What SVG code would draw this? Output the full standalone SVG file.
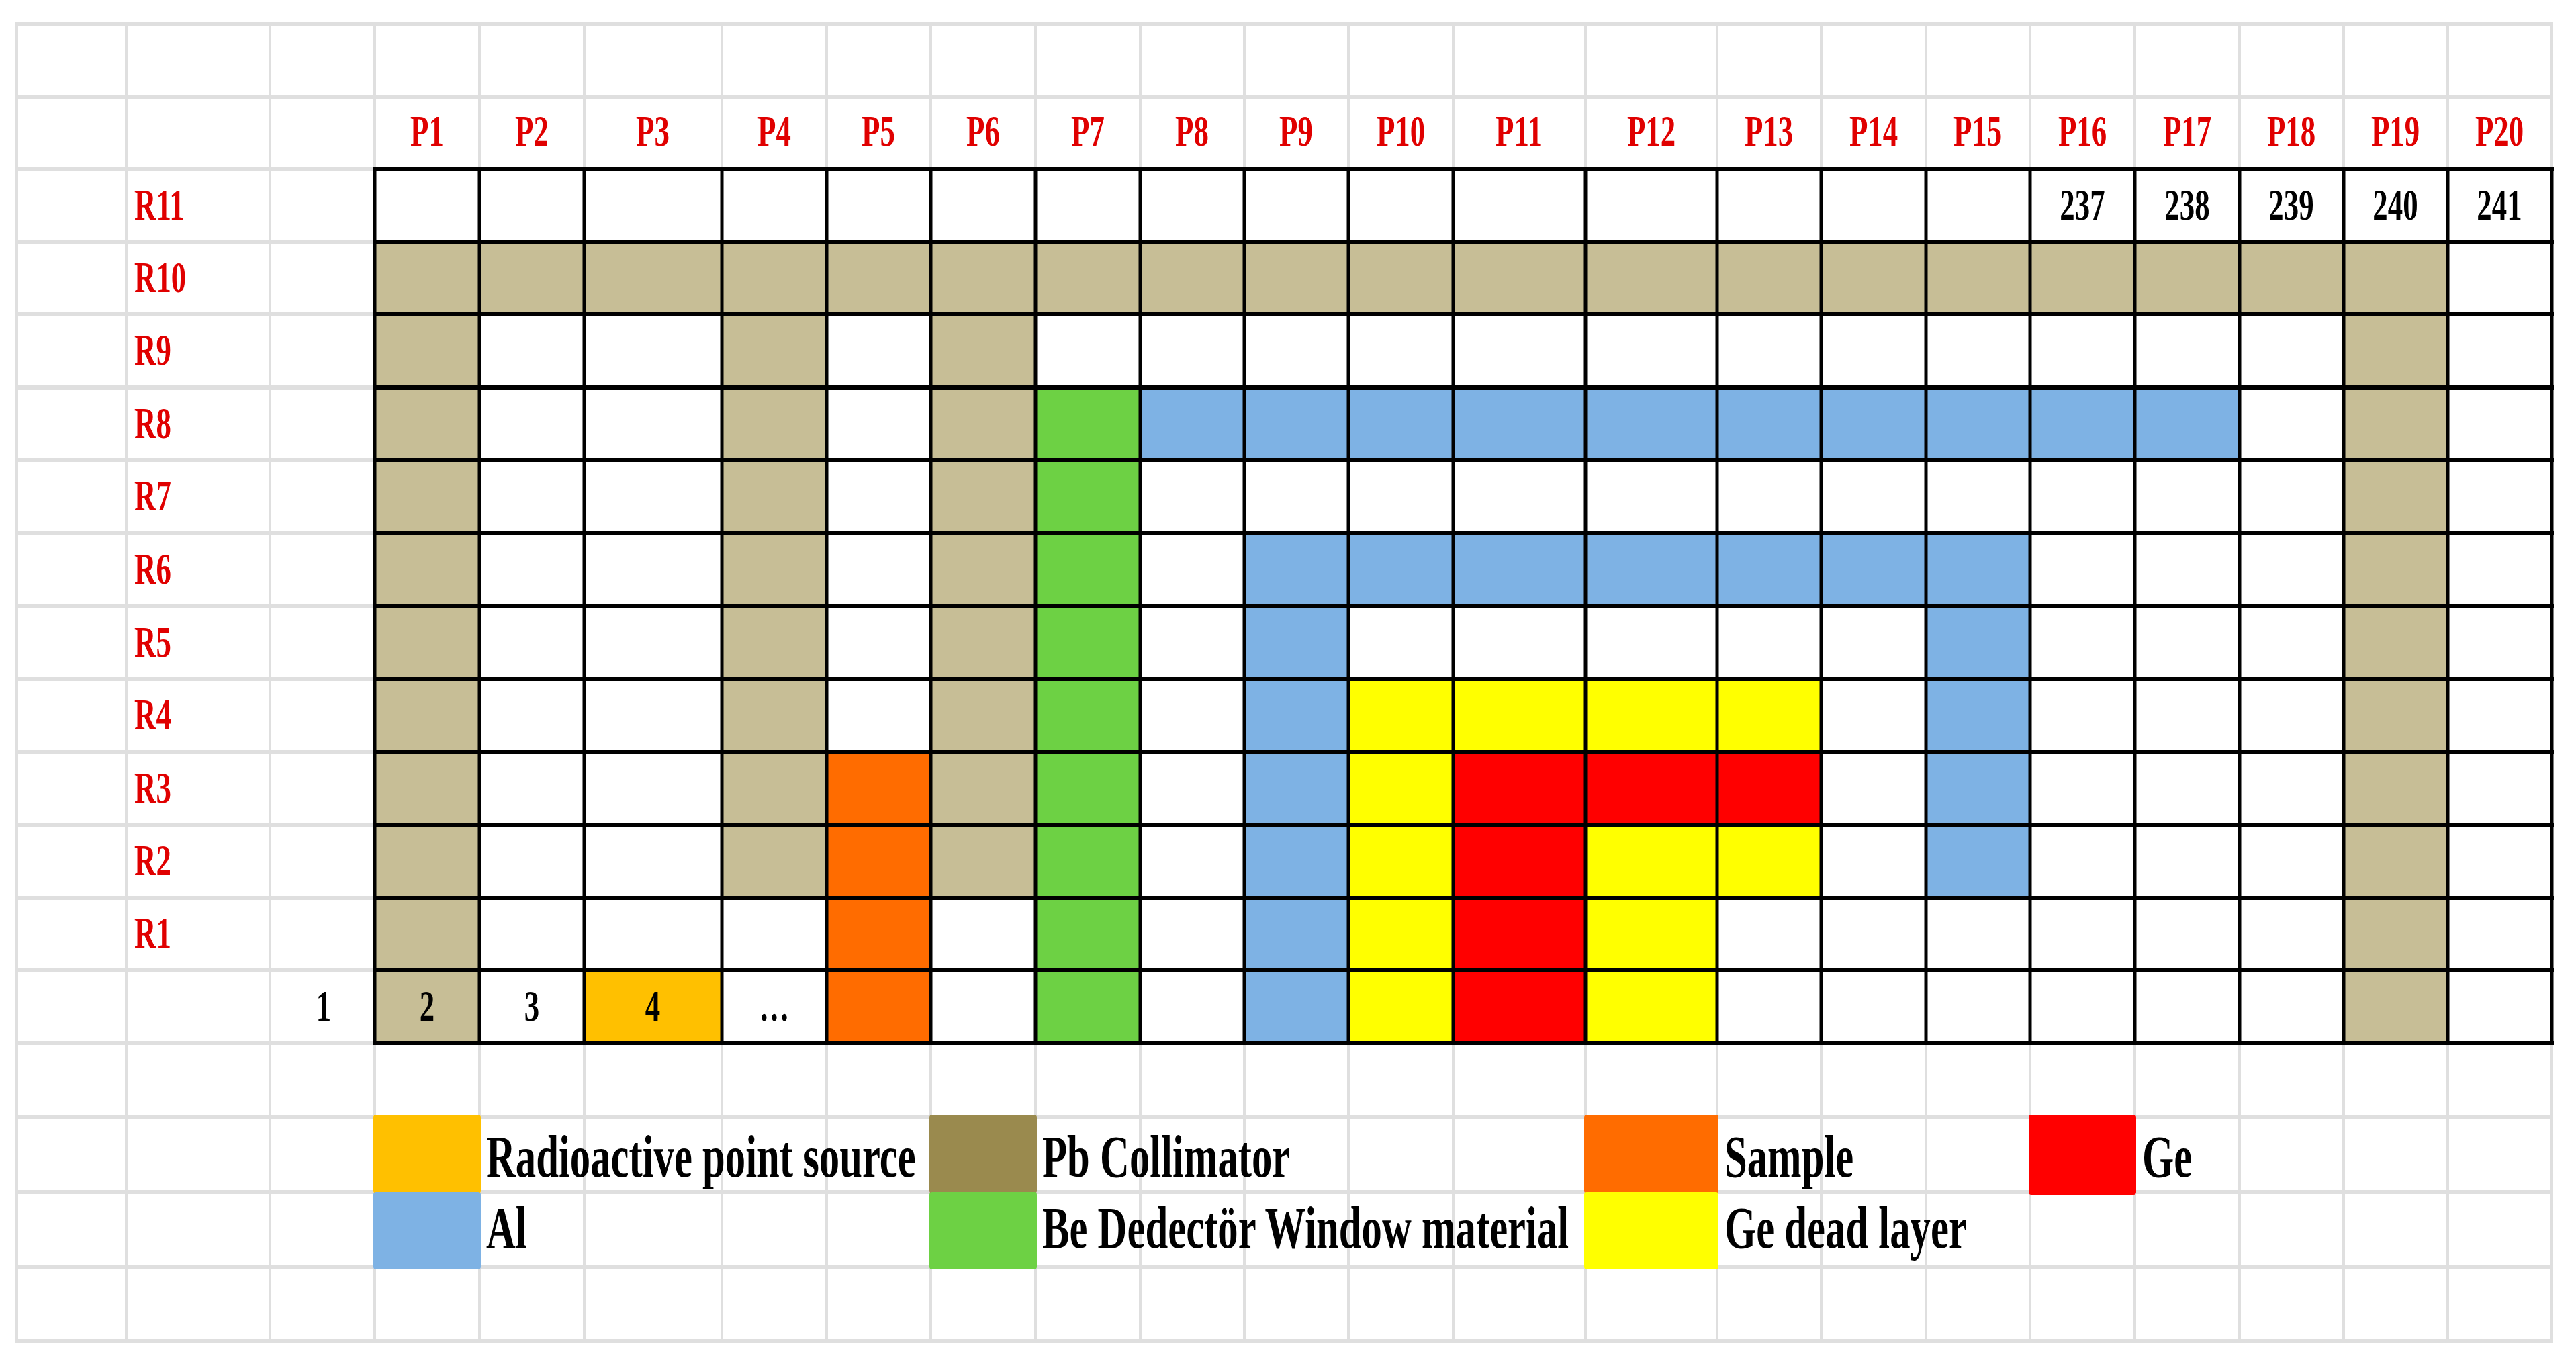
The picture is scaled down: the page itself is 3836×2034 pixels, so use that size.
<svg xmlns="http://www.w3.org/2000/svg" width="3836" height="2034" viewBox="0 0 3836 2034">
<style>
.gv{stroke:#DFDFDF;stroke-width:4}
.gh{stroke:#DFDFDF;stroke-width:6}
.bv{stroke:#000;stroke-width:5;stroke-linecap:square}
.bh{stroke:#000;stroke-width:6;stroke-linecap:square}
.pb{fill:#C7BE96}
.al{fill:#7EB2E4}
.be{fill:#6DD144}
.sa{fill:#FF6C00}
.ge{fill:#FF0000}
.dl{fill:#FFFF00}
.src{fill:#FFC000}
.pbl{fill:#9A8A4E}
.t{font-family:"Liberation Serif","Times New Roman",serif;font-weight:bold;font-size:65px}
.red{fill:#E00000}
.blk{fill:#000}
.c{text-anchor:middle}
.lg{font-family:"Liberation Serif","Times New Roman",serif;font-weight:bold;font-size:88px;fill:#000}
</style>
<rect x="0" y="0" width="3836" height="2034" fill="#fff"/>
<g id="gray-grid">
<line class="gv" x1="25" y1="36" x2="25" y2="1997"/>
<line class="gv" x1="188" y1="36" x2="188" y2="1997"/>
<line class="gv" x1="402" y1="36" x2="402" y2="1997"/>
<line class="gv" x1="558" y1="36" x2="558" y2="1997"/>
<line class="gv" x1="714" y1="36" x2="714" y2="1997"/>
<line class="gv" x1="870" y1="36" x2="870" y2="1997"/>
<line class="gv" x1="1075" y1="36" x2="1075" y2="1997"/>
<line class="gv" x1="1231" y1="36" x2="1231" y2="1997"/>
<line class="gv" x1="1386" y1="36" x2="1386" y2="1997"/>
<line class="gv" x1="1542" y1="36" x2="1542" y2="1997"/>
<line class="gv" x1="1698" y1="36" x2="1698" y2="1997"/>
<line class="gv" x1="1853" y1="36" x2="1853" y2="1997"/>
<line class="gv" x1="2008" y1="36" x2="2008" y2="1997"/>
<line class="gv" x1="2164" y1="36" x2="2164" y2="1997"/>
<line class="gv" x1="2361" y1="36" x2="2361" y2="1997"/>
<line class="gv" x1="2557" y1="36" x2="2557" y2="1997"/>
<line class="gv" x1="2712" y1="36" x2="2712" y2="1997"/>
<line class="gv" x1="2868" y1="36" x2="2868" y2="1997"/>
<line class="gv" x1="3023" y1="36" x2="3023" y2="1997"/>
<line class="gv" x1="3179" y1="36" x2="3179" y2="1997"/>
<line class="gv" x1="3335" y1="36" x2="3335" y2="1997"/>
<line class="gv" x1="3490" y1="36" x2="3490" y2="1997"/>
<line class="gv" x1="3645" y1="36" x2="3645" y2="1997"/>
<line class="gv" x1="3800" y1="36" x2="3800" y2="1997"/>
<line class="gh" x1="23" y1="36" x2="3802" y2="36"/>
<line class="gh" x1="23" y1="144" x2="3802" y2="144"/>
<line class="gh" x1="23" y1="252" x2="3802" y2="252"/>
<line class="gh" x1="23" y1="360" x2="3802" y2="360"/>
<line class="gh" x1="23" y1="468" x2="3802" y2="468"/>
<line class="gh" x1="23" y1="577" x2="3802" y2="577"/>
<line class="gh" x1="23" y1="685" x2="3802" y2="685"/>
<line class="gh" x1="23" y1="794" x2="3802" y2="794"/>
<line class="gh" x1="23" y1="903" x2="3802" y2="903"/>
<line class="gh" x1="23" y1="1011" x2="3802" y2="1011"/>
<line class="gh" x1="23" y1="1120" x2="3802" y2="1120"/>
<line class="gh" x1="23" y1="1228" x2="3802" y2="1228"/>
<line class="gh" x1="23" y1="1337" x2="3802" y2="1337"/>
<line class="gh" x1="23" y1="1445" x2="3802" y2="1445"/>
<line class="gh" x1="23" y1="1553" x2="3802" y2="1553"/>
<line class="gh" x1="23" y1="1663" x2="3802" y2="1663"/>
<line class="gh" x1="23" y1="1775" x2="3802" y2="1775"/>
<line class="gh" x1="23" y1="1887" x2="3802" y2="1887"/>
<line class="gh" x1="23" y1="1997" x2="3802" y2="1997"/>
</g>
<g id="cells">
<rect class="pb" x="558" y="360" width="3087" height="108"/>
<rect class="pb" x="558" y="468" width="156" height="1085"/>
<rect class="pb" x="1075" y="468" width="156" height="869"/>
<rect class="pb" x="1386" y="468" width="156" height="869"/>
<rect class="pb" x="3490" y="468" width="155" height="1085"/>
<rect class="be" x="1542" y="577" width="156" height="976"/>
<rect class="al" x="1698" y="577" width="1637" height="108"/>
<rect class="al" x="1853" y="794" width="1170" height="109"/>
<rect class="al" x="1853" y="903" width="155" height="650"/>
<rect class="al" x="2868" y="903" width="155" height="434"/>
<rect class="dl" x="2008" y="1011" width="704" height="109"/>
<rect class="dl" x="2008" y="1120" width="156" height="433"/>
<rect class="ge" x="2164" y="1120" width="548" height="108"/>
<rect class="ge" x="2164" y="1228" width="197" height="325"/>
<rect class="dl" x="2361" y="1228" width="351" height="109"/>
<rect class="dl" x="2361" y="1337" width="196" height="216"/>
<rect class="sa" x="1231" y="1120" width="155" height="433"/>
<rect class="src" x="870" y="1445" width="205" height="108"/>
</g>
<g id="table-lines">
<line class="bv" x1="558" y1="252" x2="558" y2="1553"/>
<line class="bv" x1="714" y1="252" x2="714" y2="1553"/>
<line class="bv" x1="870" y1="252" x2="870" y2="1553"/>
<line class="bv" x1="1075" y1="252" x2="1075" y2="1553"/>
<line class="bv" x1="1231" y1="252" x2="1231" y2="1553"/>
<line class="bv" x1="1386" y1="252" x2="1386" y2="1553"/>
<line class="bv" x1="1542" y1="252" x2="1542" y2="1553"/>
<line class="bv" x1="1698" y1="252" x2="1698" y2="1553"/>
<line class="bv" x1="1853" y1="252" x2="1853" y2="1553"/>
<line class="bv" x1="2008" y1="252" x2="2008" y2="1553"/>
<line class="bv" x1="2164" y1="252" x2="2164" y2="1553"/>
<line class="bv" x1="2361" y1="252" x2="2361" y2="1553"/>
<line class="bv" x1="2557" y1="252" x2="2557" y2="1553"/>
<line class="bv" x1="2712" y1="252" x2="2712" y2="1553"/>
<line class="bv" x1="2868" y1="252" x2="2868" y2="1553"/>
<line class="bv" x1="3023" y1="252" x2="3023" y2="1553"/>
<line class="bv" x1="3179" y1="252" x2="3179" y2="1553"/>
<line class="bv" x1="3335" y1="252" x2="3335" y2="1553"/>
<line class="bv" x1="3490" y1="252" x2="3490" y2="1553"/>
<line class="bv" x1="3645" y1="252" x2="3645" y2="1553"/>
<line class="bv" x1="3800" y1="252" x2="3800" y2="1553"/>
<line class="bh" x1="558" y1="252" x2="3800" y2="252"/>
<line class="bh" x1="558" y1="360" x2="3800" y2="360"/>
<line class="bh" x1="558" y1="468" x2="3800" y2="468"/>
<line class="bh" x1="558" y1="577" x2="3800" y2="577"/>
<line class="bh" x1="558" y1="685" x2="3800" y2="685"/>
<line class="bh" x1="558" y1="794" x2="3800" y2="794"/>
<line class="bh" x1="558" y1="903" x2="3800" y2="903"/>
<line class="bh" x1="558" y1="1011" x2="3800" y2="1011"/>
<line class="bh" x1="558" y1="1120" x2="3800" y2="1120"/>
<line class="bh" x1="558" y1="1228" x2="3800" y2="1228"/>
<line class="bh" x1="558" y1="1337" x2="3800" y2="1337"/>
<line class="bh" x1="558" y1="1445" x2="3800" y2="1445"/>
<line class="bh" x1="558" y1="1553" x2="3800" y2="1553"/>
</g>
<g id="column-labels" class="t red c">
<text transform="translate(636,217) scale(0.69,1)">P1</text>
<text transform="translate(792,217) scale(0.69,1)">P2</text>
<text transform="translate(972,217) scale(0.69,1)">P3</text>
<text transform="translate(1153,217) scale(0.69,1)">P4</text>
<text transform="translate(1308,217) scale(0.69,1)">P5</text>
<text transform="translate(1464,217) scale(0.69,1)">P6</text>
<text transform="translate(1620,217) scale(0.69,1)">P7</text>
<text transform="translate(1775,217) scale(0.69,1)">P8</text>
<text transform="translate(1930,217) scale(0.69,1)">P9</text>
<text transform="translate(2086,217) scale(0.69,1)">P10</text>
<text transform="translate(2262,217) scale(0.69,1)">P11</text>
<text transform="translate(2459,217) scale(0.69,1)">P12</text>
<text transform="translate(2634,217) scale(0.69,1)">P13</text>
<text transform="translate(2790,217) scale(0.69,1)">P14</text>
<text transform="translate(2945,217) scale(0.69,1)">P15</text>
<text transform="translate(3101,217) scale(0.69,1)">P16</text>
<text transform="translate(3257,217) scale(0.69,1)">P17</text>
<text transform="translate(3412,217) scale(0.69,1)">P18</text>
<text transform="translate(3567,217) scale(0.69,1)">P19</text>
<text transform="translate(3722,217) scale(0.69,1)">P20</text>
</g>
<g id="row-labels" class="t red">
<text transform="translate(200,327) scale(0.69,1)">R11</text>
<text transform="translate(200,435) scale(0.69,1)">R10</text>
<text transform="translate(200,543) scale(0.69,1)">R9</text>
<text transform="translate(200,652) scale(0.69,1)">R8</text>
<text transform="translate(200,760) scale(0.69,1)">R7</text>
<text transform="translate(200,869) scale(0.69,1)">R6</text>
<text transform="translate(200,978) scale(0.69,1)">R5</text>
<text transform="translate(200,1086) scale(0.69,1)">R4</text>
<text transform="translate(200,1195) scale(0.69,1)">R3</text>
<text transform="translate(200,1303) scale(0.69,1)">R2</text>
<text transform="translate(200,1411) scale(0.69,1)">R1</text>
</g>
<g id="cell-numbers" class="t blk c">
<text transform="translate(3101,327) scale(0.69,1)">237</text>
<text transform="translate(3257,327) scale(0.69,1)">238</text>
<text transform="translate(3412,327) scale(0.69,1)">239</text>
<text transform="translate(3567,327) scale(0.69,1)">240</text>
<text transform="translate(3722,327) scale(0.69,1)">241</text>
<text transform="translate(482,1520) scale(0.69,1)">1</text>
<text transform="translate(636,1520) scale(0.69,1)">2</text>
<text transform="translate(792,1520) scale(0.69,1)">3</text>
<text transform="translate(972,1520) scale(0.69,1)">4</text>
<text transform="translate(1153,1520) scale(0.69,1)">…</text>
</g>
<g id="legend-source"><rect class="src" x="556" y="1660" width="160" height="117" rx="4"/><text class="lg" transform="translate(724,1752) scale(0.69,1)">Radioactive point source</text></g>
<g id="legend-pb"><rect class="pbl" x="1384" y="1660" width="160" height="117" rx="4"/><text class="lg" transform="translate(1552,1752) scale(0.69,1)">Pb Collimator</text></g>
<g id="legend-sample"><rect class="sa" x="2359" y="1660" width="200" height="117" rx="4"/><text class="lg" transform="translate(2568,1752) scale(0.69,1)">Sample</text></g>
<g id="legend-ge"><rect class="ge" x="3021" y="1660" width="160" height="119" rx="4"/><text class="lg" transform="translate(3190,1752) scale(0.69,1)">Ge</text></g>
<g id="legend-al"><rect class="al" x="556" y="1775" width="160" height="115" rx="4"/><text class="lg" transform="translate(724,1858) scale(0.69,1)">Al</text></g>
<g id="legend-be"><rect class="be" x="1384" y="1775" width="160" height="115" rx="4"/><text class="lg" transform="translate(1552,1858) scale(0.69,1)">Be Dedectör Window material</text></g>
<g id="legend-deadlayer"><rect class="dl" x="2359" y="1775" width="200" height="115" rx="4"/><text class="lg" transform="translate(2568,1858) scale(0.69,1)">Ge dead layer</text></g>
</svg>
